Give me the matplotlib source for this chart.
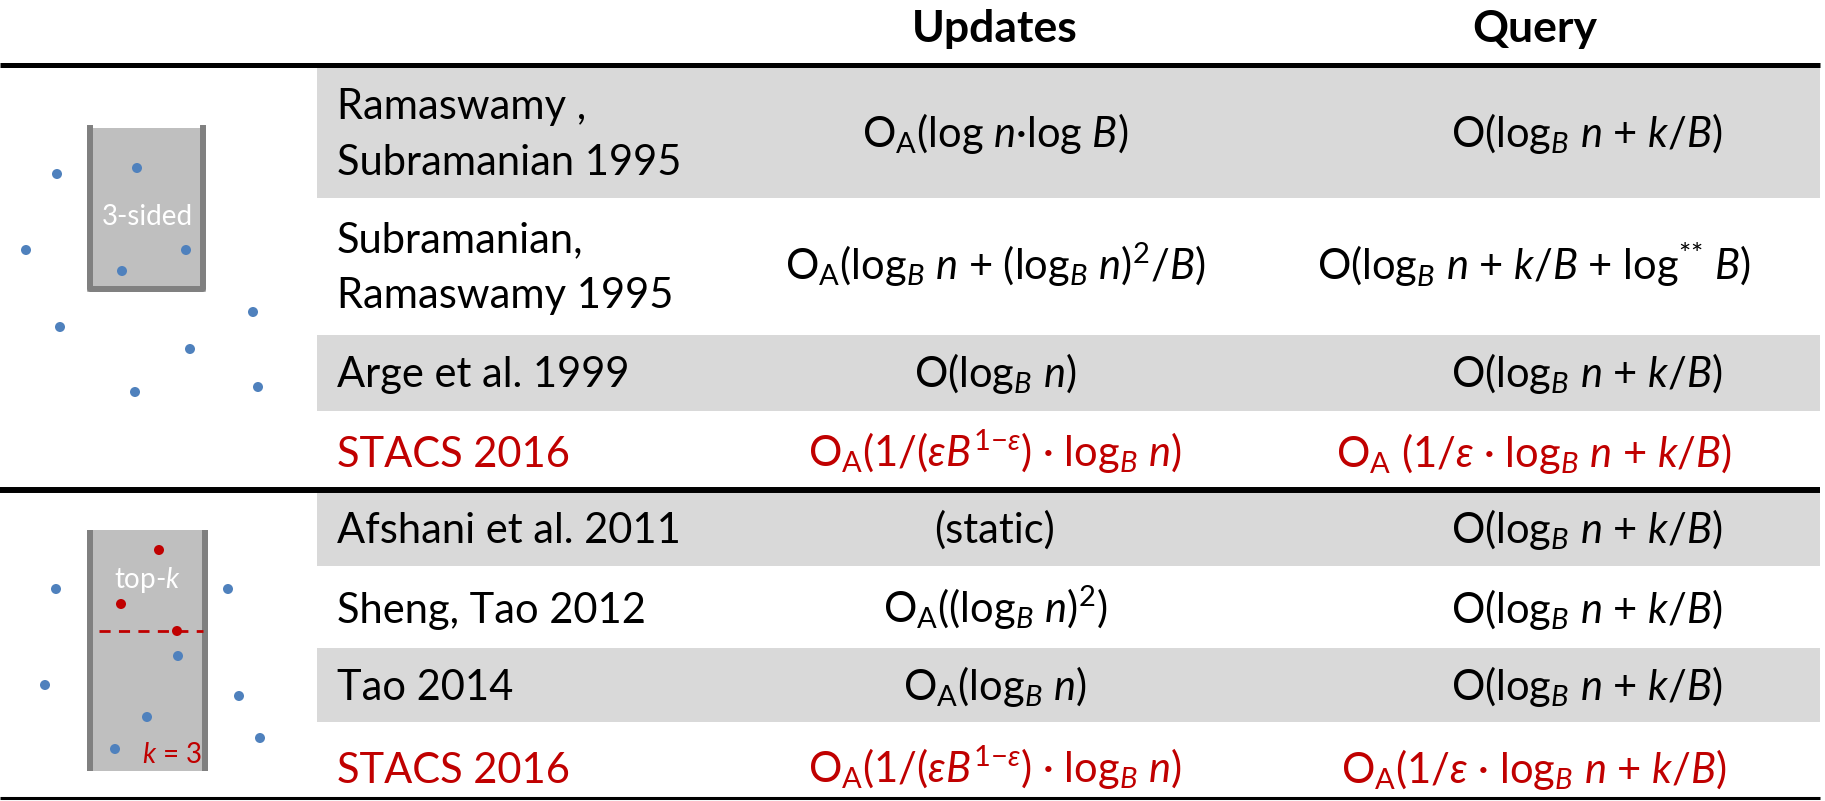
import matplotlib
matplotlib.use("Agg")
import matplotlib.pyplot as plt
from matplotlib.patches import Rectangle

plt.rcParams['font.family'] = ['Lato', 'DejaVu Sans']
plt.rcParams['mathtext.fontset'] = 'custom'
plt.rcParams['mathtext.rm'] = 'Lato'
plt.rcParams['mathtext.it'] = 'Lato:italic'
plt.rcParams['mathtext.bf'] = 'Lato:bold'

RED = '#C00000'
BLUE = '#4F81BD'
SHADE = '#D9D9D9'

# table content
headers = ['Updates', 'Query']
authors = ['Ramaswamy ,\nSubramanian 1995', 'Subramanian,\nRamaswamy 1995',
           'Arge et al. 1999', 'STACS 2016',
           'Afshani et al. 2011', 'Sheng, Tao 2012', 'Tao 2014', 'STACS 2016']
updates = [r'O$_\mathrm{A}$(log $n$·log $B$)',
           r'O$_\mathrm{A}$(log$_B$ $n$ + (log$_B$ $n$)$^2$/$B$)',
           r'O(log$_B$ $n$)',
           r'O$_\mathrm{A}$(1/($\varepsilon B^{1{-}\varepsilon}$) · log$_B$ $n$)',
           '(static)',
           r'O$_\mathrm{A}$((log$_B$ $n$)$^2$)',
           r'O$_\mathrm{A}$(log$_B$ $n$)',
           r'O$_\mathrm{A}$(1/($\varepsilon B^{1{-}\varepsilon}$) · log$_B$ $n$)']
queries = [r'O(log$_B$ $n$ + $k$/$B$)',
           r'O(log$_B$ $n$ + $k$/$B$ + log$^{{*}{*}}$ $B$)',
           r'O(log$_B$ $n$ + $k$/$B$)',
           r'O$_\mathrm{A}$ (1/$\varepsilon$ · log$_B$ $n$ + $k$/$B$)',
           r'O(log$_B$ $n$ + $k$/$B$)',
           r'O(log$_B$ $n$ + $k$/$B$)',
           r'O(log$_B$ $n$ + $k$/$B$)',
           r'O$_\mathrm{A}$(1/$\varepsilon$ · log$_B$ $n$ + $k$/$B$)']
is_new = [False, False, False, True, False, False, False, True]
shaded = [True, False, True, False, True, False, True, False]

# row geometry (pixels)
row_top = [68, 198, 335, 411, 493, 566, 648, 722]
row_bot = [198, 335, 411, 487, 566, 648, 722, 796]
baseline = [147, 280, 387, 467, 543, 623, 700, 783]
query_x = [1587, 1534, 1587, 1534, 1587, 1587, 1587, 1534]

# illustration points
sided_blue_x = [57, 137, 26, 186, 122, 60, 253, 190, 135, 258]
sided_blue_y = [174, 168, 250, 250, 271, 327, 312, 349, 392, 387]
topk_blue_x = [56, 228, 178, 45, 239, 147, 260, 115]
topk_blue_y = [589, 589, 656, 685, 696, 717, 738, 749]
topk_red_x = [159, 121, 177]
topk_red_y = [550, 604, 631]

fig = plt.figure(figsize=(18.25, 8.01), dpi=100)
ax = fig.add_axes([0, 0, 1, 1])
ax.set_xlim(0, 1825)
ax.set_ylim(801, 0)
ax.axis('off')

fs = 30
upd_x = 995

ax.text(upd_x, 42, headers[0], ha='center', va='baseline', fontsize=32, fontweight='bold')
ax.text(1535, 42, headers[1], ha='center', va='baseline', fontsize=32, fontweight='bold')

for i in range(len(authors)):
    if shaded[i]:
        ax.add_patch(Rectangle((317, row_top[i]), 1820 - 317, row_bot[i] - row_top[i],
                               facecolor=SHADE, edgecolor='none', zorder=0))
    c = RED if is_new[i] else 'black'
    lines = authors[i].split('\n')
    if len(lines) == 2:
        ax.text(337, baseline[i] - 28, lines[0], ha='left', va='baseline', fontsize=fs, color=c)
        ax.text(337, baseline[i] + 28, lines[1], ha='left', va='baseline', fontsize=fs, color=c)
    else:
        ax.text(337, baseline[i], lines[0], ha='left', va='baseline', fontsize=fs, color=c)
    ax.text(upd_x, baseline[i], updates[i], ha='center', va='baseline', fontsize=fs, color=c)
    ax.text(query_x[i], baseline[i], queries[i], ha='center', va='baseline', fontsize=fs, color=c)

# rules
ax.plot([0, 1820], [65, 65], color='black', lw=3.6, solid_capstyle='butt')
ax.plot([0, 1820], [490, 490], color='black', lw=4.3, solid_capstyle='butt')
ax.plot([0, 1820], [798, 798], color='black', lw=2.2, solid_capstyle='butt')

# 3-sided illustration
ax.add_patch(Rectangle((87, 128), 119, 164, facecolor='#BFBFBF', edgecolor='none', zorder=1))
ax.plot([90, 90, 203, 203], [128, 289, 289, 128], color='#808080', lw=4.3,
        solid_joinstyle='round', zorder=2)
ax.text(147, 225, '3-sided', ha='center', va='baseline', fontsize=20, color='white', zorder=3)
ax.scatter(sided_blue_x, sided_blue_y, s=52, color=BLUE, edgecolors='none', zorder=4)

# top-k illustration
ax.add_patch(Rectangle((87, 530), 121, 241, facecolor='#BFBFBF', edgecolor='none', zorder=1))
ax.plot([90, 90], [530, 771], color='#808080', lw=4.3, solid_capstyle='butt', zorder=2)
ax.plot([205, 205], [530, 771], color='#808080', lw=4.3, solid_capstyle='butt', zorder=2)
ax.plot([99, 203], [631, 631], color=RED, lw=2, ls=(0, (4, 3)), zorder=3)
ax.text(147, 588, r'top-$k$', ha='center', va='baseline', fontsize=20, color='white', zorder=3)
ax.text(172, 763, r'$k$ = 3', ha='center', va='baseline', fontsize=20, color=RED, zorder=3)
ax.scatter(topk_blue_x, topk_blue_y, s=52, color=BLUE, edgecolors='none', zorder=4)
ax.scatter(topk_red_x, topk_red_y, s=52, color=RED, edgecolors='none', zorder=4)

fig.savefig('out.png', dpi=100)
